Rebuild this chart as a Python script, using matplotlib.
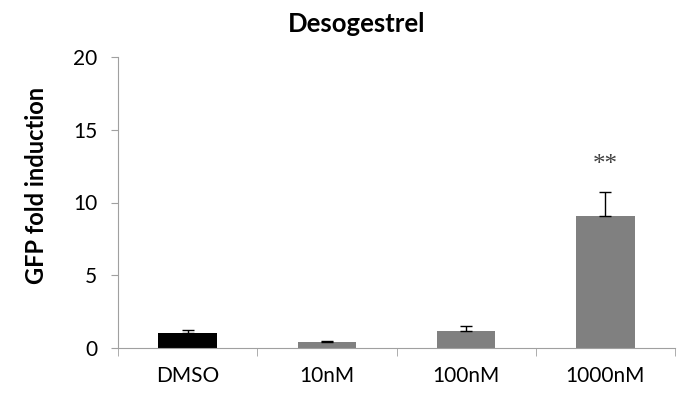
import numpy as np
import matplotlib
matplotlib.use('Agg')
import matplotlib.pyplot as plt

# data
categories = ['DMSO', '10nM', '100nM', '1000nM']
fold = [1.0, 0.4, 1.17, 9.1]
err = [0.25, 0.1, 0.35, 1.6]
bar_colors = ['#000000', '#808080', '#808080', '#808080']
sig_labels = ['', '', '', '**']

plt.rcParams['font.family'] = ['Lato', 'DejaVu Sans']

fig = plt.figure(figsize=(6.89, 3.94), dpi=100)
ax = fig.add_axes([118 / 689, 1 - 348 / 394, (675 - 118) / 689, (348 - 57) / 394])

x = np.arange(len(categories))
ax.bar(x, fold, width=0.42, color=bar_colors, zorder=2)
ax.errorbar(x, fold, yerr=[np.zeros(len(err)), err], fmt='none',
            ecolor='black', elinewidth=1, capsize=4.5, capthick=1, zorder=3)

for xi, yi, e, s in zip(x, fold, err, sig_labels):
    if s:
        ax.text(xi, yi + e + 1.1, s, ha='center', va='bottom',
                fontsize=18, family='Liberation Serif', color='#404040')

ax.set_xlim(-0.5, len(categories) - 0.5)
ax.set_ylim(0, 20)
ax.set_yticks([0, 5, 10, 15, 20])
ax.set_xticks(x)
ax.set_xticklabels(categories, fontsize=15)
ax.tick_params(axis='y', labelsize=15, length=5, color='#a0a0a0', pad=10)
ax.tick_params(axis='x', length=0, pad=13)
# boundary ticks on the category axis
ax.set_xticks(np.arange(len(categories) + 1) - 0.5, minor=True)
ax.tick_params(axis='x', which='minor', length=6, color='#a0a0a0')

for side in ['top', 'right']:
    ax.spines[side].set_visible(False)
for side in ['left', 'bottom']:
    ax.spines[side].set_color('#a0a0a0')

ax.set_ylabel('GFP fold induction', fontsize=17, fontweight='bold')
ax.yaxis.set_label_coords(-0.125, 0.557)
fig.text(0.518, 1 - 23.5 / 394, 'Desogestrel', ha='center', va='center',
         fontsize=18.5, fontweight='bold')

fig.savefig('out.png', dpi=100)
